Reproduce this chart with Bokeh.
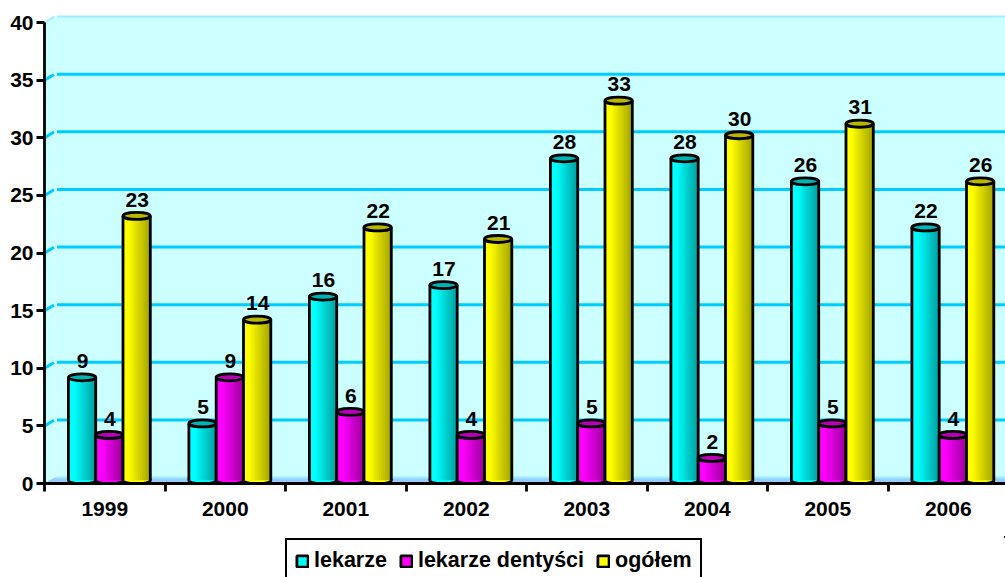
from bokeh.plotting import figure
from bokeh.embed import file_html
from bokeh.resources import INLINE
from bokeh.layouts import column
from bokeh.models import (FixedTicker, Legend, LegendItem, LinearAxis, Range1d)
from bokeh.core.properties import value

years = ["1999", "2000", "2001", "2002", "2003", "2004", "2005", "2006"]
lekarze = [9, 5, 16, 17, 28, 28, 26, 22]
dentysci = [4, 9, 6, 4, 5, 2, 5, 4]
ogolem = [23, 14, 22, 21, 33, 30, 31, 26]
y_ticks = [0, 5, 10, 15, 20, 25, 30, 35, 40]

series = [
    ("lekarze", lekarze, "#00ffff", "#00a4a4", "#00b4b4"),
    ("lekarze dentyści", dentysci, "#ff00ff", "#a000a0", "#b800b8"),
    ("ogółem", ogolem, "#ffff00", "#a8a800", "#b8b800"),
]

# pixel geometry (page coordinates of the reference)
PX_LEFT, PX_RIGHT, PX_ZERO = 44, 1005, 483
PX_PER_CAT = 120.5
PX_PER_UNIT = 11.525
DX = 10 / PX_PER_CAT      # depth of the 3D wall
DY = 6 / PX_PER_UNIT
BAR_W = 27.3 / PX_PER_CAT
GROUP_SHIFT = 4.6 / PX_PER_CAT
ELL_H = 7 / PX_PER_UNIT
LIFT = 2.5 / PX_PER_UNIT
LABEL_GAP = 11.8 / PX_PER_UNIT
LINE = 2.8
FONT = "21px"

x_end = (PX_RIGHT - PX_LEFT) / PX_PER_CAT

p = figure(width=1005, height=536, output_backend="svg", toolbar_location=None,
           x_range=Range1d(0, x_end), y_range=Range1d(0, PX_ZERO / PX_PER_UNIT),
           min_border_left=PX_LEFT, min_border_right=0, min_border_top=0, min_border_bottom=53,
           x_axis_type=None, y_axis_type=None, frame_align=False)
p.outline_line_color = None
p.grid.visible = False

WALL = "#ccffff"
GRID = "#00ccff"
FLOOR = "#99ccff"

# walls
p.patch([DX, x_end, x_end, DX], [DY, DY, 40 + DY, 40 + DY], fill_color=WALL, line_color=None)
p.patch([0, DX, DX, 0], [0, DY, 40 + DY, 40], fill_color=WALL, line_color=None)
p.patch([0, DX, x_end, x_end], [0, DY, DY, 0], fill_color=FLOOR, line_color=None)

# grid lines on the wall and stubs on the side wall
gy = [t for t in y_ticks if 0 < t < 40]
p.segment(x0=[DX * 1.25] * len(gy), x1=[x_end] * len(gy), y0=[t + DY for t in gy], y1=[t + DY for t in gy],
          line_color=GRID, line_width=3)
p.segment(x0=[0] * len(gy), x1=[DX * 0.95] * len(gy), y0=gy, y1=[t + DY * 0.95 for t in gy],
          line_color=GRID, line_width=3)
p.segment(x0=[DX * 1.25, 0, DX * 1.25], x1=[x_end, DX, x_end], y0=[40 + DY, 40, DY], y1=[40 + DY, 40 + DY, DY],
          line_color="#99eeff", line_width=2)

cats = list(range(len(years)))
labels = []
for s, (name, vals, col, dark, lid) in enumerate(series):
    xc = [c + 0.5 + GROUP_SHIFT + (s - 1) * BAR_W for c in cats]
    tops = [v + LIFT for v in vals]
    base = ELL_H / 2 * 0.9
    # bottom edge: strips cover the ellipse's upper half
    p.ellipse(x=xc, y=[base] * 8, width=BAR_W, height=ELL_H, fill_color=col, line_color="black", line_width=LINE)
    # cylinder shading as vertical strips
    n = 14
    r0, g0, b0 = int(col[1:3], 16), int(col[3:5], 16), int(col[5:7], 16)
    r1, g1, b1 = int(dark[1:3], 16), int(dark[3:5], 16), int(dark[5:7], 16)
    sw = BAR_W / n
    for k in range(n):
        f = k / (n - 1)
        m = 0.0 if f < 0.2 else (f - 0.2) / 0.8
        c = "#%02x%02x%02x" % (round(r0 + (r1 - r0) * m), round(g0 + (g1 - g0) * m), round(b0 + (b1 - b0) * m))
        p.vbar(x=[x - BAR_W / 2 + sw * (k + 0.5) for x in xc], top=tops, bottom=base, width=sw * 1.4,
               fill_color=c, line_color=None)
    # outline sides
    for side in (-0.5, 0.5):
        xs = [x + side * BAR_W for x in xc]
        p.segment(x0=xs, x1=xs, y0=[base] * 8, y1=tops, line_color="black", line_width=LINE)
    # lid
    p.ellipse(x=xc, y=tops, width=BAR_W, height=ELL_H, fill_color=lid, line_color="black", line_width=LINE)
    labels.append((xc, vals))

for xc, vals in labels:
    p.text(x=[x + 0.5 / PX_PER_CAT for x in xc], y=[v + LABEL_GAP for v in vals], text=[str(v) for v in vals],
           text_align="center", text_baseline="bottom",
           text_font=value("Liberation Sans"), text_font_style="bold", text_font_size=FONT, text_color="black")

# axes
yaxis = LinearAxis(ticker=FixedTicker(ticks=y_ticks, minor_ticks=[]), bounds=(0, 40))
yaxis.axis_line_color = "black"
yaxis.axis_line_width = LINE
yaxis.major_tick_line_color = "black"
yaxis.major_tick_line_width = LINE
yaxis.major_tick_in = 0
yaxis.major_tick_out = 8
yaxis.major_label_text_font = "Liberation Sans"
yaxis.major_label_text_font_style = "bold"
yaxis.major_label_text_font_size = FONT
yaxis.major_label_text_color = "black"
yaxis.major_label_standoff = 3
p.add_layout(yaxis, "left")

xaxis = LinearAxis(ticker=FixedTicker(ticks=[c + 0.5 for c in cats], minor_ticks=cats + [8]))
xaxis.major_label_overrides = {c + 0.5: y for c, y in zip(cats, years)}
xaxis.axis_line_color = "black"
xaxis.axis_line_width = LINE
xaxis.major_tick_line_color = None
xaxis.minor_tick_line_color = "black"
xaxis.minor_tick_line_width = LINE
xaxis.minor_tick_in = 0
xaxis.minor_tick_out = 8
xaxis.major_label_text_font = "Liberation Sans"
xaxis.major_label_text_font_style = "bold"
xaxis.major_label_text_font_size = FONT
xaxis.major_label_text_color = "black"
xaxis.major_label_standoff = 10
p.add_layout(xaxis, "below")

# legend strip: the same series, placed far outside its view so only the key shows
q = figure(width=1005, height=41, output_backend="svg", toolbar_location=None,
           x_range=Range1d(0, x_end), y_range=Range1d(-200, -100),
           min_border_left=0, min_border_right=0, min_border_top=0, min_border_bottom=0,
           x_axis_type=None, y_axis_type=None, frame_align=False)
q.outline_line_color = None
q.grid.visible = False
items = []
for name, vals, col, dark, lid in series:
    r = q.vbar(x=[c + 1000 for c in cats], top=vals, bottom=0, width=BAR_W,
               fill_color=col, line_color="black", line_width=LINE)
    items.append(LegendItem(label=name, renderers=[r]))
legend = Legend(items=items, orientation="horizontal", location=(285, -6),
                border_line_color="black", border_line_alpha=1, border_line_width=LINE,
                label_text_font="Liberation Sans", label_text_font_style="bold",
                label_text_font_size="21.5px", label_text_color="black",
                glyph_width=14, glyph_height=14, label_standoff=5, spacing=12,
                padding=8, margin=0, background_fill_color="white", background_fill_alpha=1)
q.add_layout(legend, "center")

open("out.html", "w").write(file_html(column(p, q, spacing=0), INLINE))
